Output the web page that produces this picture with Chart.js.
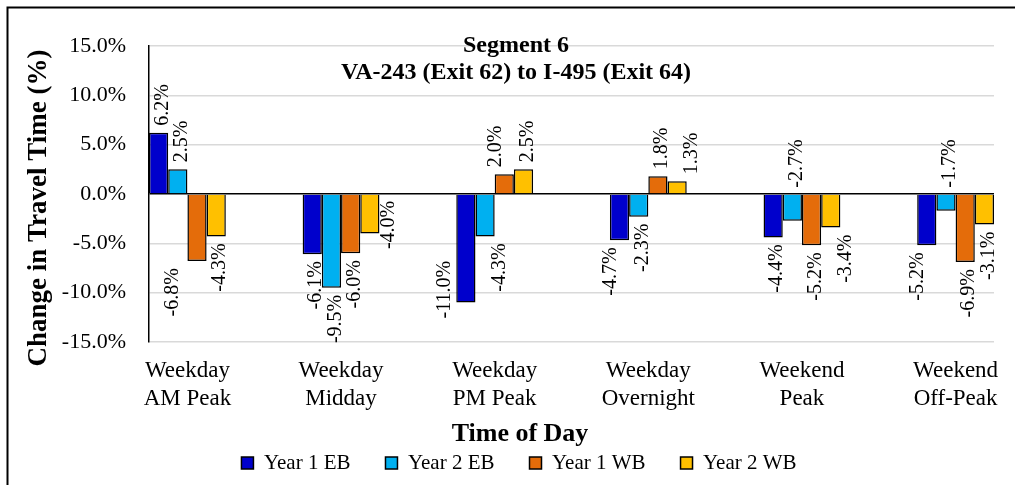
<!DOCTYPE html>
<html><head><meta charset="utf-8">
<script src="https://cdn.jsdelivr.net/npm/chart.js@4.4.1/dist/chart.umd.min.js"></script>
<style>html,body{margin:0;padding:0;background:#fff;}canvas{display:block;}</style>
</head><body>
<canvas id="c" width="1015" height="485"></canvas>
<script>
const categories = [['Weekday','AM Peak'],['Weekday','Midday'],['Weekday','PM Peak'],['Weekday','Overnight'],['Weekend','Peak'],['Weekend','Off-Peak']];
const seriesNames = ['Year 1 EB','Year 2 EB','Year 1 WB','Year 2 WB'];
const year1EB = [6.2, -6.1, -11.0, -4.7, -4.4, -5.2];
const year2EB = [2.5, -9.5, -4.3, -2.3, -2.7, -1.7];
const year1WB = [-6.8, -6.0, 2.0, 1.8, -5.2, -6.9];
const year2WB = [-4.3, -4.0, 2.5, 1.3, -3.4, -3.1];
const yTicks = [-15, -10, -5, 0, 5, 10, 15];
const titleLines = ['Segment 6', 'VA-243 (Exit 62) to I-495 (Exit 64)'];
const xTitle = 'Time of Day';
const yTitle = 'Change in Travel Time (%)';

// style: data-label placement per series (e=outside end, l/ll=shifted left, r=shifted right,
// L=beside bar on the left, zu=above zero line, zd=below zero line)
const labelPlace = [
  ['e','e','L','l','e','l'],
  ['e','e','r','e','zu','zu'],
  ['ll','e','l','e','e','e'],
  ['e','zd','e','r','r','e']
];
const colors = ['#0000CC','#00B0F0','#E46C0A','#FFC000'];
const FONT = "'Liberation Serif','Times New Roman',serif";
const seriesValues = [year1EB, year2EB, year1WB, year2WB];

const decor = {
  id: 'decor',
  beforeDraw(chart) {
    const ctx = chart.ctx;
    ctx.save();
    ctx.fillStyle = '#fff';
    ctx.fillRect(0, 0, chart.width, chart.height);
    ctx.strokeStyle = '#000';
    ctx.lineWidth = 2;
    ctx.beginPath();
    ctx.moveTo(7.5, chart.height);
    ctx.lineTo(7.5, 7.5);
    ctx.lineTo(chart.width, 7.5);
    ctx.stroke();
    ctx.restore();
  },
  afterDraw(chart) {
    const ctx = chart.ctx;
    ctx.save();
    ctx.fillStyle = '#000';
    ctx.textAlign = 'center';
    ctx.textBaseline = 'alphabetic';
    ctx.font = `bold 24px ${FONT}`;
    ctx.fillText(titleLines[0], 516, 51.5);
    ctx.fillText(titleLines[1], 516, 78.5);
    ctx.font = `bold 26px ${FONT}`;
    ctx.fillText(xTitle, 520, 441);
    ctx.translate(45.5, 208);
    ctx.rotate(-Math.PI / 2);
    ctx.font = `bold 27px ${FONT}`;
    ctx.fillText(yTitle, 0, 0);
    ctx.restore();
  }
};

const labelPlugin = {
  id: 'vlabels',
  afterDatasetsDraw(chart) {
    const ctx = chart.ctx;
    ctx.save();
    ctx.font = `20px ${FONT}`;
    ctx.fillStyle = '#000';
    ctx.textBaseline = 'middle';
    chart.data.datasets.forEach((ds, di) => {
      const meta = chart.getDatasetMeta(di);
      meta.data.forEach((bar, i) => {
        const v = ds.data[i].y;
        const text = v.toFixed(1) + '%';
        const mode = labelPlace[di][i];
        const gap = 7;
        let dx = 4, y, align;
        if (mode === 'zu') { y = bar.base - gap; align = 'left'; }
        else if (mode === 'zd') { dx = 19; y = bar.base + 6; align = 'right'; }
        else if (mode === 'L') { dx = -21; y = bar.y + 16; align = 'left'; }
        else {
          if (mode === 'l') dx = -9; else if (mode === 'll') dx = -24; else if (mode === 'r') dx = 15;
          if (v < 0) { y = bar.y + gap; align = 'right'; } else { y = bar.y - gap; align = 'left'; }
        }
        ctx.save();
        ctx.translate(bar.x + dx, y);
        ctx.rotate(-Math.PI / 2);
        ctx.textAlign = align;
        ctx.fillText(text, 0, 0);
        ctx.restore();
      });
    });
    ctx.restore();
  }
};

new Chart(document.getElementById('c'), {
  type: 'bar',
  data: {
    datasets: seriesValues.map((vals, di) => ({
      label: seriesNames[di],
      data: vals.map((v, i) => ({x: i, y: v})),
      backgroundColor: colors[di],
      borderColor: '#000',
      borderWidth: 1.5,
      categoryPercentage: 0.5,
      barPercentage: 1.0
    }))
  },
  options: {
    responsive: false,
    animation: false,
    devicePixelRatio: 1,
    layout: {padding: {left: 44, right: 21, top: 46, bottom: 1.5}},
    plugins: {
      legend: {
        position: 'bottom', align: 'center',
        labels: {boxWidth: 12, boxHeight: 12, padding: 35, color: '#000', font: {family: FONT, size: 21}}
      },
      title: {display: false},
      tooltip: {enabled: false}
    },
    scales: {
      x: {
        type: 'linear', min: -0.25, max: 5.25, offset: false,
        grid: {display: false, drawTicks: false, offset: false},
        border: {display: false},
        afterBuildTicks: s => { s.ticks = categories.map((_, i) => ({value: i})); },
        ticks: {
          callback: v => categories[v],
          autoSkip: false, maxRotation: 0, minRotation: 0, padding: 14.5,
          color: '#000', font: {family: FONT, size: 23, lineHeight: 1.23}
        },
        afterFit: s => { s.height = 75.5; }
      },
      y: {
        min: -15, max: 15,
        afterBuildTicks: s => { s.ticks = yTicks.map(v => ({value: v})); },
        ticks: {callback: v => v.toFixed(1) + '%', padding: 23, color: '#000', font: {family: FONT, size: 22}},
        grid: {drawTicks: false, color: c => (c.tick && c.tick.value === 0) ? '#000' : '#D9D9D9', lineWidth: 1.5},
        border: {display: true, color: '#000', width: 1.5},
        afterFit: s => { s.width = 105; }
      }
    }
  },
  plugins: [decor, labelPlugin]
});
</script>
</body></html>
